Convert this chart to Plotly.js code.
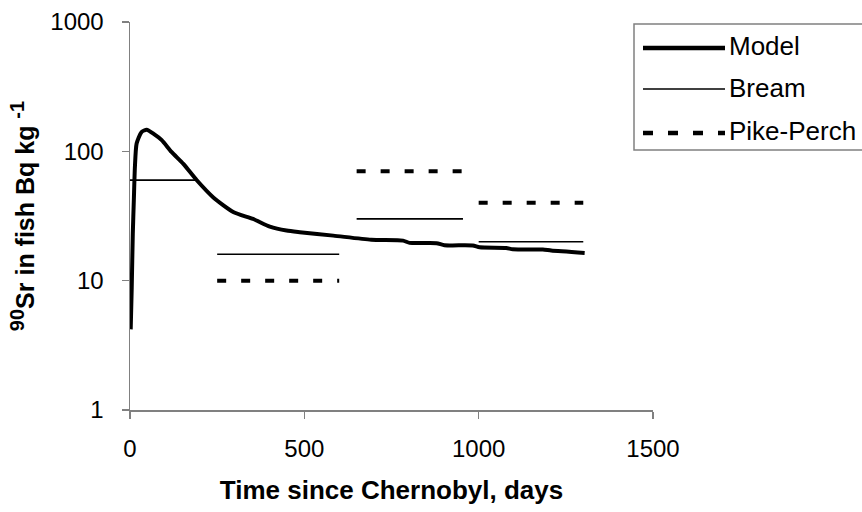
<!DOCTYPE html>
<html>
<head>
<meta charset="utf-8">
<script src="https://cdn.plot.ly/plotly-3.0.1.min.js"></script>
<style>html,body{margin:0;padding:0;background:#fff;}#chart{width:862px;height:512px;}</style>
</head>
<body>
<div id="chart"></div>
<script>
// Model curve (days, Bq/kg)
const modelDays = [2,5,8,11,14,19,33,48,67,91,119,153,191,239,296,353,401,449,487,583,692,783,802,879,902,983,1003,1079,1098,1184,1208,1304];
const modelValues = [4.2,8.9,23,42,75,115,141,147,137,122,99,80,60,44,34,30,26.2,24.4,23.7,22.3,20.7,20.4,19.6,19.5,18.8,18.7,18.1,17.9,17.5,17.4,17.1,16.4];

// Bream observations: period start, period end, mean value
const breamStart = [0, 250, 650, 1000];
const breamEnd = [190, 600, 955, 1300];
const breamValues = [60, 16, 30, 20];

// Pike-perch observations
const pikeStart = [250, 650, 1000];
const pikeEnd = [600, 955, 1300];
const pikeValues = [10, 70, 40];

const xTicks = [0, 500, 1000, 1500];
const yTicks = [1, 10, 100, 1000];
const yTickText = ['1', '10', '100', '1000'];
const seriesNames = ['Model', 'Bream', 'Pike-Perch'];

function segments(starts, ends, vals) {
  const x = [], y = [];
  starts.forEach((s, i) => {
    if (i > 0) { x.push(null); y.push(null); }
    x.push(s, ends[i]); y.push(vals[i], vals[i]);
  });
  return {x, y};
}

const bream = segments(breamStart, breamEnd, breamValues);
const pike = segments(pikeStart, pikeEnd, pikeValues);

const FONT = 'Liberation Sans, Arial, sans-serif';
const PIKE_DASH = '9px,15px';

const traces = [
  {x: modelDays, y: modelValues, mode: 'lines', name: seriesNames[0],
   line: {color: '#000', width: 4, shape: 'spline', smoothing: 0.6}, showlegend: false},
  {x: bream.x, y: bream.y, mode: 'lines', name: seriesNames[1],
   line: {color: '#000', width: 1.7}, connectgaps: false, showlegend: false},
  {x: pike.x, y: pike.y, mode: 'lines', name: seriesNames[2],
   line: {color: '#000', width: 4, dash: PIKE_DASH}, connectgaps: false, showlegend: false}
];

// Manual legend geometry (paper coordinates)
const L = 130, R = 653, T = 22, B = 410;
const px = v => (v - L) / (R - L);
const py = v => (B - v) / (B - T);
const rowY = [48, 89, 133];
const textY = [46, 88, 131];
const legendStyles = [
  {color: '#000', width: 4.5},
  {color: '#000', width: 1.7},
  {color: '#000', width: 4.5, dash: '10px,15px'}
];
const shapes = [
  {type: 'rect', xref: 'paper', yref: 'paper', x0: px(634), x1: px(866), y0: py(150), y1: py(24),
   line: {color: '#808080', width: 1.5}, fillcolor: 'rgba(0,0,0,0)', layer: 'above'}
];
const annotations = [];
seriesNames.forEach((n, i) => {
  shapes.push({type: 'line', xref: 'paper', yref: 'paper', x0: px(643), x1: px(725),
    y0: py(rowY[i]), y1: py(rowY[i]), line: legendStyles[i], layer: 'above'});
  annotations.push({xref: 'paper', yref: 'paper', x: px(727), y: py(textY[i]), text: n,
    showarrow: false, xanchor: 'left', yanchor: 'middle', font: {family: FONT, size: 26, color: '#000'}});
});

const layout = {
  width: 862, height: 512,
  margin: {l: L, r: 862 - R, t: T, b: 512 - B, pad: 0},
  paper_bgcolor: '#fff', plot_bgcolor: '#fff',
  showlegend: false,
  font: {family: FONT, size: 24, color: '#000'},
  xaxis: {
    range: [0, 1500], tickvals: xTicks, ticks: 'outside', ticklen: 7, tickcolor: '#808080', tickwidth: 1.5,
    showline: true, linecolor: '#808080', linewidth: 1.5, showgrid: false, zeroline: false,
    ticklabelstandoff: 10, tickfont: {family: FONT, size: 24, color: '#000'},
    title: {text: '<b>Time since Chernobyl, days</b>', font: {family: FONT, size: 26, color: '#000'}, standoff: 19}
  },
  yaxis: {
    type: 'log', range: [0, 3], tickvals: yTicks, ticktext: yTickText, ticks: 'outside', ticklen: 7,
    tickcolor: '#808080', tickwidth: 1.5, showline: true, linecolor: '#808080', linewidth: 1.5,
    showgrid: false, zeroline: false, ticklabelstandoff: 13,
    tickfont: {family: FONT, size: 24, color: '#000'},
    title: {text: '<b><sup><span style="font-size:20px">90</span></sup>Sr in fish Bq kg <sup><span style="font-size:20px">-1</span></sup></b>',
            font: {family: FONT, size: 25, color: '#000'}, standoff: 8}
  },
  shapes: shapes,
  annotations: annotations
};

Plotly.newPlot('chart', traces, layout, {displayModeBar: false, staticPlot: true});
</script>
</body>
</html>
